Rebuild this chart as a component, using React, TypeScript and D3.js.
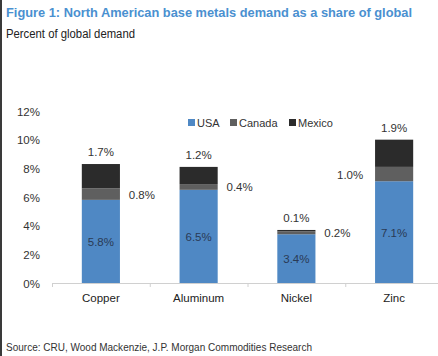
import React from "react";
import * as d3 from "d3";

const categories = ["Copper", "Aluminum", "Nickel", "Zinc"];
const seriesNames = ["USA", "Canada", "Mexico"];
const usa = [5.8, 6.5, 3.4, 7.1];
const canada = [0.8, 0.4, 0.2, 1.0];
const mexico = [1.7, 1.2, 0.1, 1.9];
const yTicks = [0, 2, 4, 6, 8, 10, 12];
const colors = ["#4f88c4", "#5f5f5f", "#2b2b2b"];

const W = 438;
const H = 356;
const FONT = "'Liberation Sans', Arial, sans-serif";

export default function App() {
  const x = d3.scaleBand<string>().domain(categories).range([52, 443]).padding(0);
  const y = d3.scaleLinear().domain([0, 12]).range([283, 111]);
  const barW = x.bandwidth() * 0.39;

  const rows = categories.map((c, i) => ({ cat: c, USA: usa[i], Canada: canada[i], Mexico: mexico[i] }));
  const stack = d3.stack<any>().keys(seriesNames)(rows);

  const fmt = (v: number) => v.toFixed(1) + "%";
  const FS = 11.5;

  return (
    <svg width={W} height={H} style={{ position: "absolute", left: 0, top: 0, background: "#fff" }} fontFamily={FONT}>
      <rect x={0} y={0} width={W} height={H} fill="#fff" />
      <rect x={0} y={0} width={2} height={H} fill="#3a3a3a" />
      <text x={6} y={16.5} fontSize={13} fontWeight="bold" fill="#4a90d0" textLength={406} lengthAdjust="spacingAndGlyphs">
        Figure 1: North American base metals demand as a share of global
      </text>
      <text x={6} y={38} fontSize={12.5} fill="#222" textLength={129} lengthAdjust="spacingAndGlyphs">
        Percent of global demand
      </text>

      {yTicks.map((t) => (
        <text key={t} x={40} y={y(t) + 4.5} fontSize={FS} fill="#333" textAnchor="end">
          {t}%
        </text>
      ))}

      {stack.map((s, si) =>
        s.map((d, i) => (
          <rect
            key={si + "-" + i}
            x={(x(categories[i]) as number) + x.bandwidth() / 2 - barW / 2}
            y={y(d[1])}
            width={barW}
            height={y(d[0]) - y(d[1])}
            fill={colors[si]}
          />
        ))
      )}

      <line x1={52} x2={443} y1={283.5} y2={283.5} stroke="#d0d0d0" />
      {[0, 1, 2, 3].map((i) => (
        <line key={i} x1={52 + x.step() * i + 0.5} x2={52 + x.step() * i + 0.5} y1={283} y2={287} stroke="#d0d0d0" />
      ))}

      {categories.map((c, i) => {
        const cx = (x(c) as number) + x.bandwidth() / 2;
        const tot = usa[i] + canada[i] + mexico[i];
        const canMid = usa[i] + canada[i] / 2;
        const left = i === categories.length - 1;
        return (
          <g key={c} fontSize={FS} fill="#333">
            <text x={cx} y={y(usa[i] / 2) + 4.5} textAnchor="middle" fill="#2a3a55">
              {fmt(usa[i])}
            </text>
            <text x={cx} y={y(tot) - 8} textAnchor="middle">
              {fmt(mexico[i])}
            </text>
            <text x={left ? cx - 44 : cx + 41} y={y(canMid) + 4.5} textAnchor="middle">
              {fmt(canada[i])}
            </text>
            <text x={cx} y={302} textAnchor="middle" fill="#222">
              {c}
            </text>
          </g>
        );
      })}

      {seriesNames.map((n, i) => {
        const lx = [188, 230, 289][i];
        return (
          <g key={n}>
            <rect x={lx} y={119} width={7} height={7} fill={colors[i]} />
            <text x={lx + 9} y={127} fontSize={11} fill="#333">
              {n}
            </text>
          </g>
        );
      })}

      <text x={6} y={351} fontSize={11.5} fill="#333" textLength={306} lengthAdjust="spacingAndGlyphs">
        Source: CRU, Wood Mackenzie, J.P. Morgan Commodities Research
      </text>
    </svg>
  );
}
